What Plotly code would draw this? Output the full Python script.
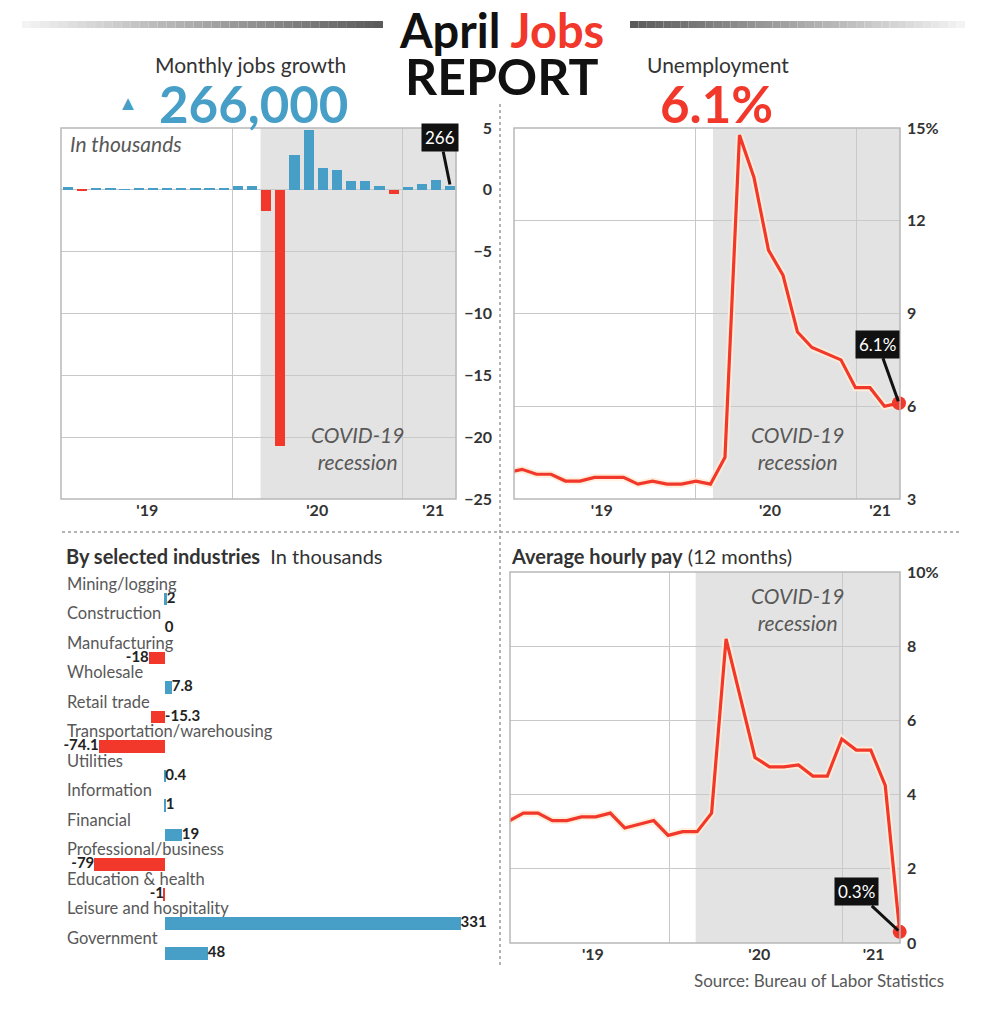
import plotly.graph_objects as go

W, H = 989, 1024

# ---------------- data ----------------
year_labels = ["'19", "'20", "'21"]

# Monthly jobs growth (Jan 2019 .. Apr 2021), chart units
jobs_idx = list(range(28))
jobs_change = [0.2, -0.08, 0.16, 0.16, 0.05, 0.15, 0.15, 0.15, 0.15, 0.15, 0.15, 0.1,
               0.27, 0.27, -1.68, -20.68, 2.83, 4.85, 1.73, 1.58, 0.72, 0.68, 0.27, -0.32,
               0.22, 0.46, 0.78, 0.27]

# Unemployment rate (%), month index (0 = Jan 2019)
unemp_idx = list(range(-1, 27))
unemp_rate = [3.86, 3.96, 3.8, 3.8, 3.58, 3.58, 3.7, 3.7, 3.7, 3.48, 3.58, 3.48, 3.48,
              3.58, 3.48, 4.35, 14.77, 13.4, 11.05, 10.24, 8.4, 7.9, 7.7, 7.5, 6.6, 6.6,
              6.0, 6.1]

# Average hourly pay, 12-month change (%)
pay_idx = list(range(28))
pay_growth = [3.29, 3.5, 3.5, 3.3, 3.3, 3.4, 3.4, 3.5, 3.1, 3.2, 3.3, 2.9, 3.0, 3.0,
              3.5, 8.2, 6.6, 5.0, 4.75, 4.75, 4.8, 4.5, 4.5, 5.5, 5.2, 5.2, 4.25, 0.3]

# Jobs by selected industries (thousands)
industries = ["Mining/logging", "Construction", "Manufacturing", "Wholesale",
              "Retail trade", "Transportation/warehousing", "Utilities", "Information",
              "Financial", "Professional/business", "Education & health",
              "Leisure and hospitality", "Government"]
industry_change = [2, 0, -18, 7.8, -15.3, -74.1, 0.4, 1, 19, -79, -1, 331, 48]
industry_text = ["2", "0", "-18", "7.8", "-15.3", "-74.1", "0.4", "1", "19", "-79",
                 "-1", "331", "48"]
industry_label_side = ["r", "r", "l", "r", "r", "l", "r", "r", "r", "l", "l", "r", "r"]

headline_jobs = "266,000"
headline_unemp = "6.1%"
callout_jobs = "266"
callout_unemp = "6.1%"
callout_pay = "0.3%"

# ---------------- style ----------------
BLUE = "#479fc7"
RED = "#f1382b"
GRID = "#c9c9c9"
SHADE = "#e3e3e3"
FRAME = "#b8b8b8"
TXT = "#333333"
GRAYTXT = "#585858"
FONT = "Lato"


def px(x):
    return x / W


def py(y):
    return 1 - y / H


fig = go.Figure()

# --- top left: monthly jobs bars
fig.add_trace(go.Bar(
    x=jobs_idx, y=jobs_change, width=0.72,
    marker=dict(color=[BLUE if v >= 0 else RED for v in jobs_change], line_width=0),
    xaxis="x", yaxis="y", hoverinfo="skip"))

# --- top right: unemployment line
fig.add_trace(go.Scatter(
    x=unemp_idx, y=unemp_rate, mode="lines",
    line=dict(color="rgba(255,236,215,0.9)", width=7), xaxis="x2", yaxis="y2",
    hoverinfo="skip"))
fig.add_trace(go.Scatter(
    x=unemp_idx, y=unemp_rate, mode="lines",
    line=dict(color=RED, width=3.2), xaxis="x2", yaxis="y2", hoverinfo="skip"))
fig.add_trace(go.Scatter(
    x=[unemp_idx[-1]], y=[unemp_rate[-1]], mode="markers",
    marker=dict(color=RED, size=14), cliponaxis=False, xaxis="x2", yaxis="y2"))

# --- bottom left: industries
rows = list(range(len(industries)))
fig.add_trace(go.Bar(
    x=industry_change, y=rows, orientation="h", width=0.44,
    marker=dict(color=[BLUE if v >= 0 else RED for v in industry_change], line_width=0),
    xaxis="x3", yaxis="y3", hoverinfo="skip"))
fig.add_trace(go.Scatter(
    x=[v if s == "l" else max(v, 0) for v, s in zip(industry_change, industry_label_side)],
    y=rows, mode="text", text=[f"<b>{t}</b>" for t in industry_text],
    textposition=["middle left" if s == "l" else "middle right" for s in industry_label_side],
    textfont=dict(family=FONT, size=15, color="#222"),
    cliponaxis=False, xaxis="x3", yaxis="y3", hoverinfo="skip"))

# --- bottom right: hourly pay line
fig.add_trace(go.Scatter(
    x=pay_idx, y=pay_growth, mode="lines",
    line=dict(color="rgba(255,236,215,0.9)", width=7), xaxis="x4", yaxis="y4",
    hoverinfo="skip"))
fig.add_trace(go.Scatter(
    x=pay_idx, y=pay_growth, mode="lines",
    line=dict(color=RED, width=3.2), xaxis="x4", yaxis="y4", hoverinfo="skip"))
fig.add_trace(go.Scatter(
    x=[pay_idx[-1]], y=[pay_growth[-1]], mode="markers",
    marker=dict(color=RED, size=14), cliponaxis=False, xaxis="x4", yaxis="y4"))

tickfont = dict(family=FONT, size=16, color=TXT, weight="bold")


def xaxis_cfg(domain, rng, label_pos, grid_pos, anchor):
    return dict(domain=domain, range=rng, anchor=anchor,
                tickmode="array", tickvals=label_pos, ticktext=year_labels,
                showgrid=False, zeroline=False, showline=False, ticks="",
                tickfont=tickfont, fixedrange=True,
                minor=dict(tickmode="array", tickvals=grid_pos, showgrid=True,
                           gridcolor=GRID, gridwidth=1, ticks=""))


top_dom = [py(499), py(128)]

layout = dict(
    width=W, height=H, margin=dict(l=0, r=0, t=0, b=0, pad=0, autoexpand=False),
    paper_bgcolor="white", plot_bgcolor="rgba(0,0,0,0)",
    showlegend=False, font=dict(family=FONT, color=TXT),
    bargap=0,
    xaxis=xaxis_cfg([px(61), px(456)], [-0.49, 27.4], [5.6, 17.6, 25.8],
                    [11.65, 23.6], "y"),
    yaxis=dict(domain=top_dom, range=[-25, 5], tickvals=[5, 0, -5, -10, -15, -20, -25],
               anchor="free", position=px(492), side="left",
               showgrid=True, gridcolor=GRID, gridwidth=1, zeroline=False,
               showline=False, ticks="", tickfont=tickfont, fixedrange=True),
    xaxis2=xaxis_cfg([px(514), px(900)], [-0.55, 26.07], [5.5, 17.1, 24.7],
                     [12.0, 23.1], "y2"),
    yaxis2=dict(domain=top_dom, range=[3, 15], tickvals=[3, 6, 9, 12, 15],
                ticktext=["3", "6", "9", "12", "15%"], anchor="x2", side="right",
                showgrid=True, gridcolor=GRID, zeroline=False, showline=False,
                ticks="", ticklabelstandoff=6, tickfont=tickfont, fixedrange=True),
    xaxis3=dict(domain=[0, 0.49], range=[-184.6, 358], visible=False, anchor="y3"),
    yaxis3=dict(domain=[py(990), py(570)], range=[13.254, -0.983], visible=False,
                anchor="x3"),
    xaxis4=xaxis_cfg([px(510), px(900)], [0.07, 27.02], [5.8, 17.3, 25.2],
                     [11.1, 23.03], "y4"),
    yaxis4=dict(domain=[py(943), py(572)], range=[0, 10], tickvals=[0, 2, 4, 6, 8, 10],
                ticktext=["0", "2", "4", "6", "8", "10%"], anchor="x4", side="right",
                showgrid=True, gridcolor=GRID, zeroline=False, showline=False,
                ticks="", ticklabelstandoff=6, tickfont=tickfont, fixedrange=True),
)
fig.update_layout(**layout)

shapes = []
# recession shading
for xa, ya, start, end in [("x", "y", 13.6, 27.4), ("x2", "y2", 13.17, 26.07),
                           ("x4", "y4", 12.9, 27.02)]:
    shapes.append(dict(type="rect", xref=xa, yref=f"{ya} domain", x0=start, x1=end,
                       y0=0, y1=1, fillcolor=SHADE, line_width=0, layer="below"))
# frames
for xa, ya in [("x", "y"), ("x2", "y2"), ("x4", "y4")]:
    shapes.append(dict(type="rect", xref=f"{xa} domain", yref=f"{ya} domain",
                       x0=0, x1=1, y0=0, y1=1, line=dict(color=FRAME, width=1.5),
                       layer="above"))
# dotted separators
shapes.append(dict(type="line", xref="paper", yref="paper", x0=px(500), x1=px(500),
                   y0=py(104), y1=py(968), line=dict(color="#9a9a9a", width=1.5, dash="dot")))
shapes.append(dict(type="line", xref="paper", yref="paper", x0=px(62), x1=px(962),
                   y0=py(532), y1=py(532), line=dict(color="#9a9a9a", width=1.5, dash="dot")))
# gradient title rules
N = 40
for k in range(N):
    t = (k + 0.5) / N
    c = int(245 - t * 155)
    shapes.append(dict(type="rect", xref="paper", yref="paper",
                       x0=px(22 + (383 - 22) * k / N), x1=px(22 + (383 - 22) * (k + 1) / N),
                       y0=py(28), y1=py(21), fillcolor=f"rgb({c},{c},{c})", line_width=0))
    c2 = int(90 + t * 155)
    shapes.append(dict(type="rect", xref="paper", yref="paper",
                       x0=px(630 + (965 - 630) * k / N), x1=px(630 + (965 - 630) * (k + 1) / N),
                       y0=py(28), y1=py(21), fillcolor=f"rgb({c2},{c2},{c2})", line_width=0))
fig.update_layout(shapes=shapes)

ann = []


def txt(x, y, text, size, color=TXT, xanchor="center", **kw):
    ann.append(dict(x=px(x), y=py(y), xref="paper", yref="paper", text=text,
                    showarrow=False, xanchor=xanchor, yanchor="middle",
                    font=dict(family=FONT, size=size, color=color), **kw))


txt(501, 30, f"<b>April <span style='color:{RED}'>Jobs</span></b>", 47, "#111")
txt(501, 76, "<b>REPORT</b>", 50, "#111")
txt(250, 64, "Monthly jobs growth", 21, TXT)
txt(128, 102, "▲", 20, BLUE)
txt(253, 103, f"<b>{headline_jobs}</b>", 51, BLUE)
txt(718, 64, "Unemployment", 21, TXT)
txt(716, 103, f"<b>{headline_unemp}</b>", 51, RED)
txt(68, 143, "<i>In thousands</i>", 21, GRAYTXT, xanchor="left")
txt(357, 448, "<i>COVID-19<br>recession</i>", 21, GRAYTXT)
txt(797, 448, "<i>COVID-19<br>recession</i>", 21, GRAYTXT)
txt(797, 609, "<i>COVID-19<br>recession</i>", 21, GRAYTXT)
txt(64, 556, "<b>By selected industries</b>  In thousands", 20, TXT, xanchor="left")
txt(509, 556, "<b>Average hourly pay</b> (12 months)", 20, TXT, xanchor="left")
txt(946, 980, "Source: Bureau of Labor Statistics", 17, GRAYTXT, xanchor="right")

for i, name in enumerate(industries):
    ann.append(dict(x=px(65), xref="paper", y=i - 0.52, yref="y3", text=name,
                    showarrow=False, xanchor="left", yanchor="middle",
                    font=dict(family=FONT, size=16.5, color=GRAYTXT)))

# callouts
for xa, ya, xv, yv, label, ax, ay in [
        ("x", "y", jobs_idx[-1], jobs_change[-1], callout_jobs, -10, -49),
        ("x2", "y2", unemp_idx[-1], unemp_rate[-1], callout_unemp, -21, -59),
        ("x4", "y4", pay_idx[-1], pay_growth[-1], callout_pay, -43, -40)]:
    ann.append(dict(x=xv, y=yv, xref=xa, yref=ya, text=label, showarrow=True,
                    arrowhead=0, arrowwidth=3, arrowcolor="#111", ax=ax, ay=ay,
                    standoff=2, bgcolor="#111", borderpad=3,
                    font=dict(family=FONT, size=17, color="white")))

fig.update_layout(annotations=ann)

fig.write_html("out.html", config={"displayModeBar": False},
               post_script="document.body.style.margin='0';")
